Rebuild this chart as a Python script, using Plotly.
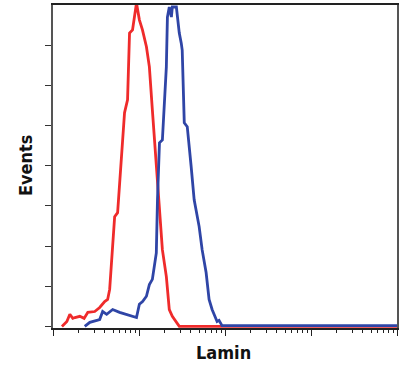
import plotly.graph_objects as go

# Fluorescence intensity (log scale) and event counts
red_x = [1.27, 1.45, 1.57, 1.70, 1.80, 2.05, 2.30, 2.54, 3.06, 3.49, 3.99, 4.32, 4.56,
         5.21, 5.64, 6.28, 6.79, 7.36, 7.76, 8.41, 9.35, 10.1, 10.97, 12.2, 13.2, 14.3,
         15.9, 17.3, 18.7, 20.8, 22.5, 24.4, 29.4, 100, 1000, 10000]
red_y = [0, 12, 30, 20, 22, 25, 20, 35, 37, 47, 62, 67, 92,
         273, 283, 440, 532, 564, 730, 738, 805, 763, 738, 696, 646, 539,
         398, 283, 191, 124, 42, 25, 0, 0, 0, 0]

blue_x = [2.34, 2.68, 3.49, 3.78, 4.21, 4.94, 5.95, 7.17, 8.41, 9.35, 10.1, 11.0, 12.2,
          13.2, 14.3, 15.9, 16.4, 17.3, 18.7, 19.7, 20.8, 21.4, 22.5, 23.8, 24.4, 27.2,
          29.4, 31.0, 31.8, 33.6, 36.4, 40.4, 43.8, 50.0, 54.2, 60.3, 65.3, 70.8, 78.7,
          80.9, 85.3, 92.3, 1000, 10000]
blue_y = [0, 10, 17, 37, 30, 42, 35, 30, 25, 22, 55, 62, 75,
          104, 117, 183, 315, 457, 464, 564, 646, 770, 795, 770, 795, 795,
          730, 705, 688, 507, 497, 398, 315, 249, 191, 134, 67, 42, 17,
          12, 15, 2, 2, 2]

y_ticks = [0, 100, 200, 300, 400, 500, 600, 700]
x_ticks = [1, 10, 100, 1000, 10000]

title_font = dict(family="DejaVu Sans Condensed, Liberation Sans, sans-serif", size=18, color="#111")

fig = go.Figure()
fig.add_trace(go.Scatter(x=red_x, y=red_y, mode="lines",
                         line=dict(color="#ef2b2b", width=2.8), showlegend=False))
fig.add_trace(go.Scatter(x=blue_x, y=blue_y, mode="lines",
                         line=dict(color="#2f45a6", width=2.8), showlegend=False))

fig.update_layout(
    width=402, height=371,
    margin=dict(l=53, r=3, t=5, b=43),
    paper_bgcolor="white", plot_bgcolor="white",
    xaxis=dict(type="log", range=[0, 4], tickvals=x_ticks, showticklabels=False,
               ticks="outside", ticklen=6, tickwidth=1, tickcolor="#222",
               minor=dict(ticks="outside", ticklen=3, tickwidth=1, tickcolor="#222", dtick="D1"),
               showgrid=False, zeroline=False, showline=True, linecolor="#222",
               linewidth=1.5, mirror=True),
    yaxis=dict(range=[-4, 800], tickvals=y_ticks, showticklabels=False,
               ticks="outside", ticklen=6, tickwidth=1, tickcolor="#333",
               showgrid=False, zeroline=False, showline=True, linecolor="#555",
               linewidth=1.5, mirror=True),
    annotations=[
        dict(text="<b>Events</b>", xref="paper", yref="paper", x=-0.078, y=0.505,
             textangle=-90, showarrow=False, xanchor="center", yanchor="middle",
             font=title_font),
        dict(text="<b>Lamin</b>", xref="paper", yref="paper", x=0.497, y=-0.077,
             showarrow=False, xanchor="center", yanchor="middle",
             font=title_font),
    ],
)

fig.write_html("out.html", config={"displayModeBar": False},
               post_script="document.body.style.margin='0';")
